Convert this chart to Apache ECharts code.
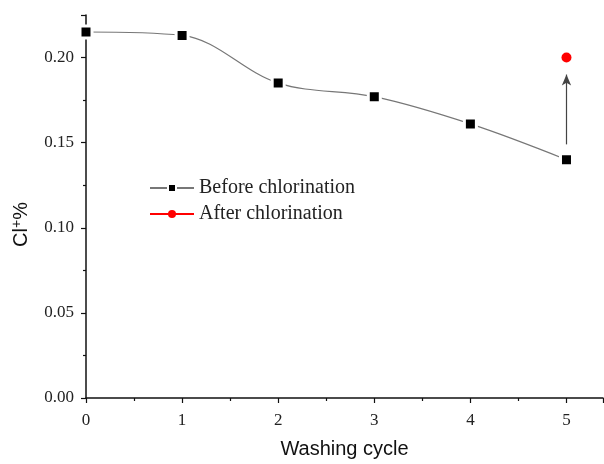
<!DOCTYPE html>
<html>
<head>
<meta charset="utf-8">
<script src="https://cdn.jsdelivr.net/npm/echarts@6/dist/echarts.min.js"></script>
<style>html,body{margin:0;padding:0;background:#fff;}#c{width:604px;height:464px;}</style>
</head>
<body>
<div id="c"></div>
<script>
var cycles = [0, 1, 2, 3, 4, 5];
var beforeValues = [0.215, 0.213, 0.185, 0.177, 0.161, 0.140];
var afterCycles = [5];
var afterValues = [0.200];
var arrowFrom = [5, 0.149];
var arrowTo = [5, 0.190];
var seriesNames = ['Before chlorination', 'After chlorination'];

var chart = echarts.init(document.getElementById('c'));
var serif = '"Liberation Serif", "Times New Roman", serif';
var sans = '"Liberation Sans", Arial, sans-serif';
chart.setOption({
  animation: false,
  backgroundColor: '#fff',
  grid: { left: 86, top: 15, right: 1, bottom: 62, containLabel: false },
  legend: {
    orient: 'vertical', left: 144, top: 173, itemWidth: 44, itemHeight: 10, itemGap: 6,
    textStyle: { fontFamily: serif, fontSize: 20, color: '#222', lineHeight: 20 },
    data: seriesNames
  },
  xAxis: {
    type: 'value', min: 0, max: 5.38, interval: 1,
    name: 'Washing cycle', nameLocation: 'middle', nameGap: 41,
    nameTextStyle: { fontFamily: sans, fontSize: 20, color: '#111' },
    axisLine: { lineStyle: { color: '#111', width: 1.5 } },
    axisTick: { inside: false, length: 5, lineStyle: { color: '#111', width: 1.2 } },
    minorTick: { show: true, splitNumber: 2, length: 3, lineStyle: { color: '#111', width: 1.2 } },
    axisLabel: { fontFamily: serif, fontSize: 17, color: '#222', margin: 14, showMaxLabel: false },
    splitLine: { show: false }
  },
  yAxis: {
    type: 'value', min: 0, max: 0.225, interval: 0.05,
    name: 'Cl{sup|+}%', nameLocation: 'middle', nameGap: 54,
    nameTextStyle: { fontFamily: sans, fontSize: 20, color: '#111', padding: [0, 36, 0, 0],
      rich: { sup: { fontFamily: sans, fontSize: 14, color: '#111', padding: [0, 0, 8, 0] } } },
    axisLine: { show: true, lineStyle: { color: '#111', width: 1.5 } },
    axisTick: { show: true, inside: false, length: 5, lineStyle: { color: '#111', width: 1.2 } },
    minorTick: { show: true, splitNumber: 2, length: 3, lineStyle: { color: '#111', width: 1.2 } },
    axisLabel: { fontFamily: serif, fontSize: 17, color: '#222', margin: 12, showMaxLabel: false,
      formatter: function (v) { return v.toFixed(2); } },
    splitLine: { show: false }
  },
  series: [
    {
      name: seriesNames[0], type: 'line', smooth: 0.35,
      data: cycles.map(function (c, i) { return [c, beforeValues[i]]; }),
      symbol: 'rect', symbolSize: 12,
      itemStyle: { color: '#000', borderColor: '#fff', borderWidth: 3 },
      lineStyle: { color: '#777', width: 1.2 },
      markLine: {
        silent: true, symbol: ['none', 'arrow'], symbolSize: [7, 11],
        label: { show: false },
        lineStyle: { color: '#444', width: 1.2, type: 'solid' },
        data: [[{ coord: arrowFrom }, { coord: arrowTo }]]
      }
    },
    {
      name: seriesNames[1], type: 'line',
      data: afterCycles.map(function (c, i) { return [c, afterValues[i]]; }),
      symbol: 'circle', symbolSize: 10,
      itemStyle: { color: '#f00' },
      lineStyle: { color: '#f00', width: 1 }
    }
  ]
});
</script>
</body>
</html>
